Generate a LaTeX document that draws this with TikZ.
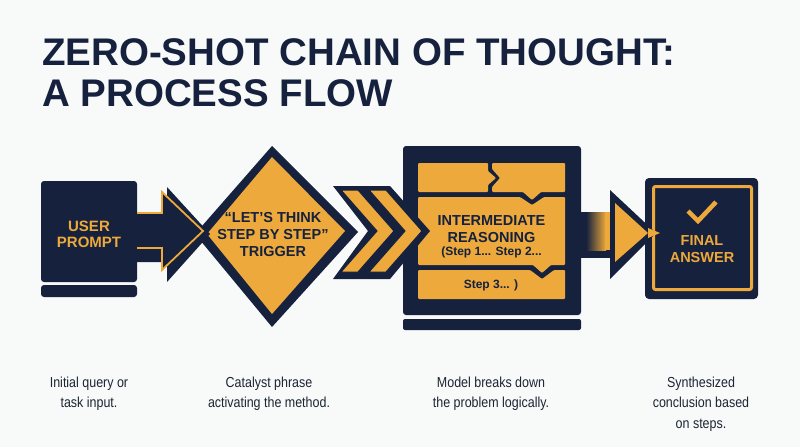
\documentclass[tikz,border=0pt]{standalone}
\usepackage{fontspec}
\setmainfont{Liberation Sans}
\usetikzlibrary{shadings}
\definecolor{navy}{HTML}{15213D}
\definecolor{gold}{HTML}{EDA93B}
\definecolor{bg}{HTML}{F8F9F9}
\definecolor{desc}{HTML}{1C2533}
\begin{document}
\begin{tikzpicture}[x=1pt,y=-1pt,
  bigtxt/.style={inner sep=0, align=center, font=\fontsize{14.5}{17}\selectfont\bfseries},
  smalltxt/.style={inner sep=0, align=center, font=\fontsize{12}{14}\selectfont\bfseries, text=navy},
  desctxt/.style={inner sep=0, align=center, text=desc, font=\fontsize{14.5}{20.7}\selectfont},
  navyfill/.style={fill=navy},
  panel/.style={fill=gold}
]
\useasboundingbox[fill=bg] (0,0) rectangle (800,447);

% title
\node[anchor=north west, inner sep=0, align=left, text=navy,
      font=\fontsize{38.5}{41}\selectfont\bfseries] (title) at (42,38.5)
      {ZERO-SHOT CHAIN OF THOUGHT:\\A PROCESS FLOW};

% user prompt
\fill[navyfill, rounded corners=3] (41,181) rectangle (137,282);
\fill[navyfill, rounded corners=3] (41,285) rectangle (137,297);
\node[bigtxt, text=gold, font=\fontsize{15}{16.5}\selectfont\bfseries] (user) at (89,234.5) {USER\\PROMPT};

% diamond
\fill[navyfill] (272,146) -- (358,232) -- (272,327) -- (195,234) -- cycle;
\fill[panel] (272,157) -- (345,231) -- (272,314) -- (207,234) -- cycle;
\node[bigtxt, text=navy] (trigger) at (273,235) {“LET’S THINK\\STEP BY STEP”\\TRIGGER};

% arrow 1
\fill[navyfill] (137,214) -- (167,214) -- (167,187) -- (210,234) -- (167,282) -- (167,262) -- (137,262) -- cycle;
\path[fill=navy, draw=gold, line width=1.8] (137,213) -- (162,213) -- (162,192) -- (203,231) -- (162,270) -- (162,248) -- (137,248);

% intermediate box
\fill[navyfill, rounded corners=3] (403,146) rectangle (581,315);
\fill[navyfill, rounded corners=2] (403,319) rectangle (581,330);
\fill[panel, rounded corners=1] (418,163) -- (488,163) -- (488,171) -- (496,178) -- (488,185) -- (488,192) -- (418,192) -- cycle;
\fill[panel, rounded corners=1] (492,163) -- (565,163) -- (565,192) -- (541,192) -- (532,200) -- (523,192) -- (492,192) -- (492,187) -- (500,178) -- (492,169) -- cycle;
\fill[panel, rounded corners=1] (418,197) -- (520,197) -- (532,205) -- (544,197) -- (565,197) -- (565,265) -- (551,265) -- (542,273) -- (533,265) -- (418,265) -- cycle;
\fill[panel, rounded corners=1] (418,270) -- (530,270) -- (542,279) -- (554,270) -- (565,270) -- (565,299) -- (418,299) -- cycle;
\node[bigtxt, text=navy] (inter) at (491.5,229.5) {INTERMEDIATE\\REASONING};
\node[smalltxt, anchor=base] (steps) at (491.5,255) {(Step 1... Step 2...};
\node[smalltxt, anchor=base] (step3) at (491,288) {Step 3... )};

% chevrons
\fill[navyfill] (333,186) -- (390,186) -- (430,231) -- (390,279) -- (333,279) -- (368,231) -- cycle;
\filldraw[fill=gold, draw=navy, line width=1] (341,190) -- (358,190) -- (394,231) -- (358,272) -- (341,272) -- (377,231) -- cycle;
\filldraw[fill=gold, draw=navy, line width=1] (369,190) -- (386,190) -- (422,231) -- (386,272) -- (369,272) -- (405,231) -- cycle;

% final answer box
\fill[navyfill, rounded corners=4] (645,178) rectangle (758,299);
\draw[gold, line width=3, rounded corners=2] (653.5,186.5) rectangle (751.5,289.5);
\draw[gold, line width=4.5] (688,211) -- (698,221) -- (716,202);
\node[bigtxt, text=gold, font=\fontsize{14.5}{17}\selectfont\bfseries] (final) at (702,249) {FINAL\\ANSWER};

% arrow 3
\fill[navyfill] (581,212) rectangle (614,258);
\shade[left color=navy, right color=gold] (586,212) rectangle (606,250);
\fill[panel] (605,212) rectangle (614,250);
\fill[navyfill] (610,190) -- (656,233) -- (610,279) -- cycle;
\fill[panel] (615,203) -- (648,233) -- (615,262) -- cycle;
\fill[panel] (648,228) -- (660,233) -- (648,238) -- cycle;

% descriptions
\node[desctxt, anchor=base] (d1) at (89,387) {\scalebox{0.86}[1]{Initial query or}};
\node[desctxt, anchor=base] (d1b) at (89,407.5) {\scalebox{0.86}[1]{task input.}};
\node[desctxt, anchor=base] (d2) at (269,387) {\scalebox{0.86}[1]{Catalyst phrase}};
\node[desctxt, anchor=base] (d2b) at (269,407.5) {\scalebox{0.86}[1]{activating the method.}};
\node[desctxt, anchor=base] (d3) at (491,387) {\scalebox{0.86}[1]{Model breaks down}};
\node[desctxt, anchor=base] (d3b) at (491,407.5) {\scalebox{0.86}[1]{the problem logically.}};
\node[desctxt, anchor=base] (d4) at (701,387) {\scalebox{0.86}[1]{Synthesized}};
\node[desctxt, anchor=base] (d4b) at (701,407.5) {\scalebox{0.86}[1]{conclusion based}};
\node[desctxt, anchor=base] (d4c) at (701,428.5) {\scalebox{0.86}[1]{on steps.}};
\end{tikzpicture}
\end{document}
